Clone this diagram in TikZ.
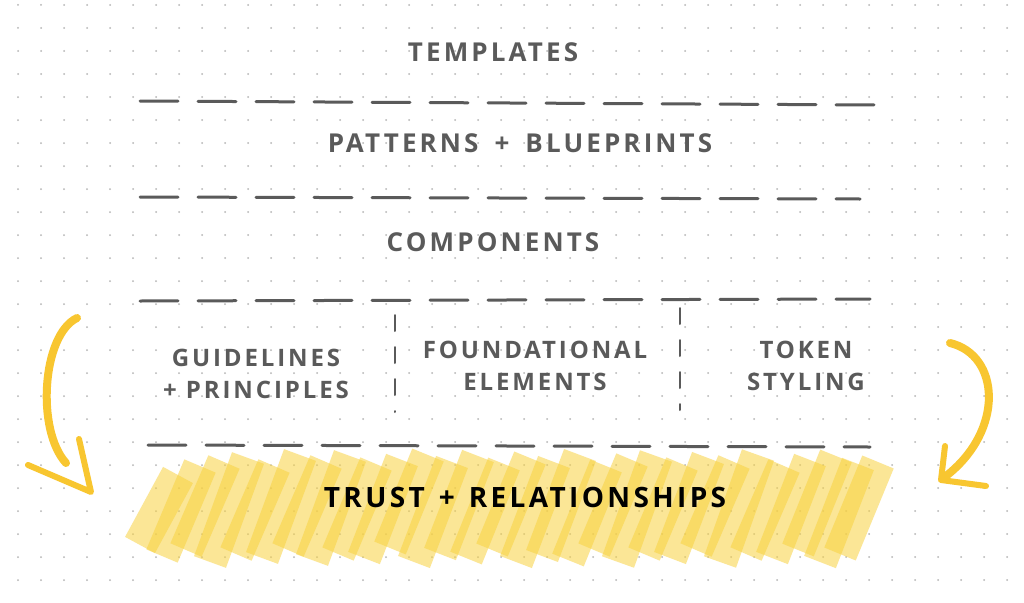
\documentclass[tikz,border=0pt]{standalone}
\usepackage{fontspec}
\newfontfamily\handfont[LetterSpace=12]{Open Sans}
\usetikzlibrary{positioning}
\definecolor{pencil}{HTML}{5A5A5A}
\definecolor{marker}{HTML}{F8D240}
\definecolor{arrowyellow}{HTML}{F8C630}
\definecolor{griddot}{HTML}{B4B4B4}
\tikzset{
  label text/.style={font=\handfont\bfseries\fontsize{26}{32}\selectfont, text=pencil, align=center, inner sep=0pt},
  cell text/.style={label text, font=\handfont\bfseries\fontsize{24}{32}\selectfont},
  sketch line/.style={pencil, line width=3pt, line cap=round, dash pattern=on 38pt off 20pt},
  divider/.style={pencil, line width=2pt, line cap=round, dash pattern=on 16pt off 16pt},
  swoosh/.style={arrowyellow, line width=8pt, line cap=round, line join=round},
  highlight/.style={marker, line width=34pt, opacity=0.55}
}
\begin{document}
\begin{tikzpicture}[x=1pt, y=-1pt]
  \useasboundingbox (0,0) rectangle (1024,602);
  \fill[white] (0,0) rectangle (1024,602);

  % dot grid
  \foreach \gx in {0,...,44} {
    \foreach \gy in {0,...,25} {
      \fill[griddot] (18+23*\gx, 5+23*\gy) circle (1pt);
    }
  }

  % marker band
  \foreach \hx/\lo/\hi in {140/545/475, 162/556/466, 186/550/462, 210/562/458, 236/554/466,
      262/558/455, 288/550/462, 312/560/456, 338/554/464, 364/558/460, 390/548/455, 414/562/462,
      440/554/456, 466/558/464, 492/550/458, 516/562/462, 542/556/455, 568/560/466, 594/550/460,
      618/562/456, 644/554/464, 670/558/458, 696/550/462, 720/562/455, 746/554/466, 772/558/460,
      798/550/456, 820/562/464, 840/554/462}
  {
    \draw[highlight] (\hx,\lo) -- (\hx+38,\hi);
  }

  % layers
  \node[label text] (templates) at (493,52) {TEMPLATES};
  \node[label text] (patterns) at (520,143) {PATTERNS\hspace{16pt}+\hspace{16pt}BLUEPRINTS};
  \node[label text] (components) at (493,242) {COMPONENTS};
  \node[cell text] (guidelines) at (256,374) {GUIDELINES\\+ PRINCIPLES};
  \node[cell text] (foundational) at (535,366) {FOUNDATIONAL\\ELEMENTS};
  \node[cell text] (token) at (806,366) {TOKEN\\STYLING};
  \node[label text, text=black, font=\handfont\bfseries\fontsize{28}{32}\selectfont] (trust) at (525,497) {TRUST\hspace{14pt}+\hspace{14pt}RELATIONSHIPS};

  % dashed separators
  \coordinate (r1a) at (140,101); \coordinate (r1b) at (880,105);
  \coordinate (r2a) at (140,197); \coordinate (r2b) at (860,199);
  \coordinate (r3a) at (140,301); \coordinate (r3b) at (870,299);
  \coordinate (r4a) at (148,445); \coordinate (r4b) at (870,447);
  \draw[sketch line] (r1a) -- (r1b);
  \draw[sketch line] (r2a) -- (r2b);
  \draw[sketch line] (r3a) -- (r3b);
  \draw[sketch line] (r4a) -- (r4b);

  \coordinate (v1a) at (395,315); \coordinate (v1b) at (395,412);
  \coordinate (v2a) at (680,308); \coordinate (v2b) at (680,410);
  \draw[divider] (v1a) -- (v1b);
  \draw[divider] (v2a) -- (v2b);

  % left arrow
  \coordinate (la) at (77,318); \coordinate (lb) at (66,463);
  \coordinate (ltip) at (91,492);
  \draw[swoosh] (la) .. controls (42,335) and (36,430) .. (lb);
  \draw[swoosh, line width=6pt] (28,465) -- (ltip) -- (79,439);

  % right arrow
  \coordinate (ra) at (950,343); \coordinate (rb) at (946,476);
  \coordinate (rtip) at (941,480);
  \draw[swoosh] (ra) .. controls (1000,355) and (1005,430) .. (rb);
  \draw[swoosh, line width=6pt] (945,446) -- (rtip) -- (986,486);
\end{tikzpicture}
\end{document}
